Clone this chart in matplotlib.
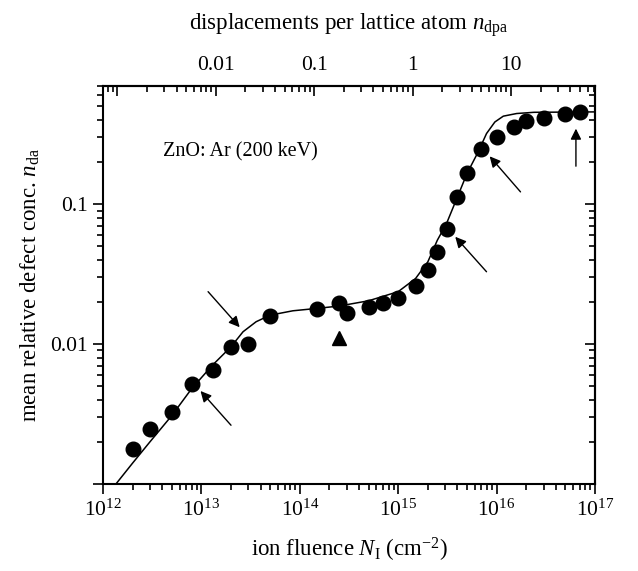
import numpy as np
import matplotlib
matplotlib.use('Agg')
import matplotlib.pyplot as plt
from matplotlib.ticker import FixedLocator, FixedFormatter, LogLocator, NullFormatter

### Data
# measured points (filled circles)
fluence = [2e12, 3e12, 5e12, 8e12, 1.3e13, 2e13, 3e13, 5e13, 1.5e14, 2.5e14,
           3e14, 5e14, 7e14, 1e15, 1.5e15, 2e15, 2.5e15, 3.1e15, 4e15, 5e15,
           7e15, 1e16, 1.5e16, 2e16, 3e16, 5e16, 7e16]
n_da = [0.00177, 0.00248, 0.00329, 0.00518, 0.00652, 0.00957, 0.00995, 0.0159,
        0.0177, 0.0197, 0.0167, 0.0185, 0.0197, 0.0215, 0.0261, 0.0341, 0.0457,
        0.0663, 0.112, 0.168, 0.25, 0.303, 0.356, 0.394, 0.416, 0.445, 0.457]

# single triangle point
tri_fluence = [2.5e14]
tri_n = [0.011]

# fit curve
fit_fluence = [1.37e12, 2e12, 3e12, 5e12, 8e12, 1.3e13, 2e13, 2.65e13, 3.6e13,
               5e13, 8.5e13, 1.5e14, 2.5e14, 5e14, 1e15, 1.5e15, 2e15, 2.5e15,
               3.1e15, 4e15, 5e15, 6.5e15, 7.9e15, 9.6e15, 1.17e16, 1.6e16,
               2.4e16, 1e17]
fit_n = [0.00101, 0.00141, 0.0020, 0.00308, 0.00482, 0.00708, 0.00957, 0.01225,
         0.01445, 0.0161, 0.0173, 0.0180, 0.0187, 0.0204, 0.0237, 0.0294, 0.0387,
         0.0553, 0.0728, 0.1127, 0.1655, 0.2366, 0.32, 0.387, 0.426, 0.445,
         0.454, 0.457]

# arrows: (tail N, tail n, tip N, tip n)
arrows = [(1.17e13, 0.0237, 2.45e13, 0.0132),
          (2.0e13, 0.00263, 9.8e12, 0.00462),
          (7.9e15, 0.0329, 3.8e15, 0.0585),
          (1.75e16, 0.1225, 8.5e15, 0.22),
          (6.4e16, 0.187, 6.4e16, 0.347)]

N_PER_DPA = 1.4e15  # fluence giving 1 dpa

plt.rcParams['font.family'] = 'Liberation Serif'
plt.rcParams['mathtext.fontset'] = 'custom'
plt.rcParams['mathtext.rm'] = 'Liberation Serif'
plt.rcParams['mathtext.it'] = 'Liberation Serif:italic'
fs_tick = 15.5
fs_lab = 16.5

fig = plt.figure(figsize=(6.38, 5.71), dpi=100)
ax = fig.add_axes([0.1614, 0.1524, 0.7712, 0.697])

ax.plot(fit_fluence, fit_n, 'k-', linewidth=1.1)
ax.plot(fluence, n_da, 'ko', markersize=10.5)
ax.plot(tri_fluence, tri_n, 'k^', markersize=10.5)

for xt, yt, xh, yh in arrows:
    ax.annotate('', xy=(xh, yh), xytext=(xt, yt),
                arrowprops=dict(arrowstyle='-|>', color='k', lw=1.0,
                                mutation_scale=16, shrinkA=0, shrinkB=0))

ax.text(0.122, 0.834, 'ZnO: Ar (200 keV)', transform=ax.transAxes,
        fontsize=14.5, va='center', ha='left')

ax.set_xscale('log')
ax.set_yscale('log')
ax.set_xlim(1e12, 1e17)
ax.set_ylim(0.001, 0.7)

ax.yaxis.set_major_locator(FixedLocator([0.001, 0.01, 0.1]))
ax.yaxis.set_major_formatter(FixedFormatter(['', '0.01', '0.1']))
ax.yaxis.set_minor_locator(LogLocator(base=10, subs=np.arange(2, 10), numticks=20))
ax.yaxis.set_minor_formatter(NullFormatter())
ax.xaxis.set_minor_locator(LogLocator(base=10, subs=np.arange(2, 10), numticks=20))
ax.xaxis.set_minor_formatter(NullFormatter())

ax.tick_params(which='both', direction='out', top=False, right=False,
               width=1.2, labelsize=fs_tick)
ax.tick_params(which='major', length=7.5)
ax.tick_params(which='minor', length=4)
for s in ax.spines.values():
    s.set_linewidth(1.5)

ax.set_xlabel(r'ion fluence $N_{\mathrm{I}}$ (cm$^{-2}$)', fontsize=fs_lab, labelpad=11)
ax.set_ylabel(r'mean relative defect conc. $n_{\mathrm{da}}$', fontsize=fs_lab, labelpad=6)

# top axis: displacements per lattice atom
top = ax.secondary_xaxis('top', functions=(lambda x: x / N_PER_DPA,
                                           lambda x: x * N_PER_DPA))
top.xaxis.set_major_locator(FixedLocator([0.001, 0.01, 0.1, 1, 10]))
top.xaxis.set_major_formatter(FixedFormatter(['', '0.01', '0.1', '1', '10']))
top.xaxis.set_minor_locator(LogLocator(base=10, subs=np.arange(2, 10), numticks=20))
top.xaxis.set_minor_formatter(NullFormatter())
top.tick_params(which='both', direction='in', width=1.2, labelsize=fs_tick, pad=8)
top.tick_params(which='major', length=7)
top.tick_params(which='minor', length=4)
top.set_xlabel(r'displacements per lattice atom $n_{\mathrm{dpa}}$', fontsize=fs_lab, labelpad=19)
top.spines['top'].set_linewidth(1.5)

# right axis: same scale, inward ticks, no labels
right = ax.secondary_yaxis('right')
right.yaxis.set_major_locator(FixedLocator([0.001, 0.01, 0.1]))
right.yaxis.set_major_formatter(NullFormatter())
right.yaxis.set_minor_locator(LogLocator(base=10, subs=np.arange(2, 10), numticks=20))
right.yaxis.set_minor_formatter(NullFormatter())
right.tick_params(which='both', direction='in', width=1.2)
right.tick_params(which='major', length=7)
right.tick_params(which='minor', length=4)
right.spines['right'].set_linewidth(1.5)

plt.savefig('out.png', dpi=100)
